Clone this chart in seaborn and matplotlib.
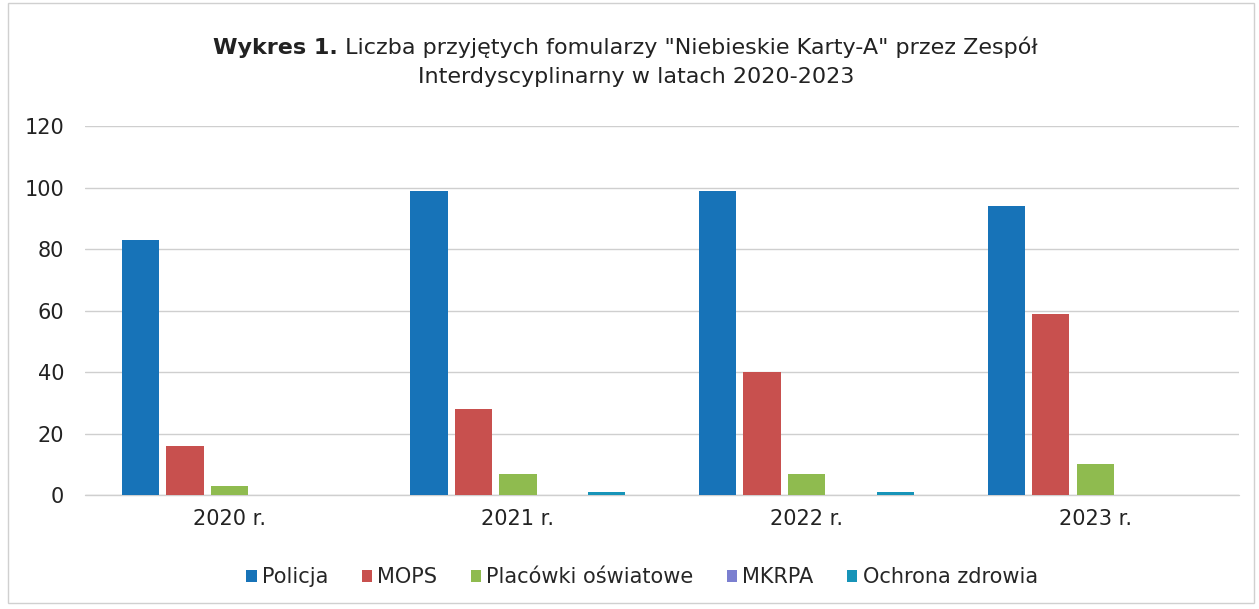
import pandas as pd
import seaborn as sns
import matplotlib.pyplot as plt
from matplotlib.patches import Rectangle

# Data
years = ['2020 r.', '2021 r.', '2022 r.', '2023 r.']
series = ['Policja', 'MOPS', 'Placówki oświatowe', 'MKRPA', 'Ochrona zdrowia']
policja = [83, 99, 99, 94]
mops = [16, 28, 40, 59]
placowki = [3, 7, 7, 10]
mkrpa = [0, 0, 0, 0]
ochrona = [0, 1, 1, 0]
colors = ['#1773b8', '#c8504e', '#8fbb4f', '#7b7fd0', '#1794b8']

# Long format table for seaborn
values = [policja, mops, placowki, mkrpa, ochrona]
rows = []
for name, vals in zip(series, values):
    for year, v in zip(years, vals):
        rows.append({'Rok': year, 'Źródło': name, 'Liczba': v})
df = pd.DataFrame(rows)

sns.set_style('white')
plt.rcParams['font.family'] = ['DejaVu Sans']

fig = plt.figure(figsize=(12.59, 6.09), dpi=100)
ax = fig.add_axes([0.0675, 0.187, 0.917, 0.606])

sns.barplot(data=df, x='Rok', y='Liczba', hue='Źródło', hue_order=series,
            palette=colors, width=0.77, gap=0.16, ax=ax, legend=True,
            saturation=1, linewidth=0)

ax.set_ylim(0, 120)
ax.set_yticks(range(0, 121, 20))
ax.yaxis.grid(True, color='#cfcfcf', linewidth=1)
ax.axhline(0, color='#cfcfcf', linewidth=1, zorder=0, clip_on=False)
ax.set_axisbelow(True)
for s in ax.spines.values():
    s.set_visible(False)
ax.set_xlabel('')
ax.set_ylabel('')
ax.tick_params(axis='both', length=0, labelsize=15, colors='#222222')
ax.tick_params(axis='y', pad=15)
ax.tick_params(axis='x', pad=10)

# legend below the axes
handles, labels = ax.get_legend_handles_labels()
ax.legend_.remove()
fig.legend(handles, labels, loc='center', bbox_to_anchor=(0.51, 0.052),
           ncol=5, frameon=False, fontsize=15, handlelength=0.5,
           handleheight=0.5, handletextpad=0.25, columnspacing=1.6)

# two-part title: bold "Wykres 1." followed by normal text
fig.canvas.draw()
r = fig.canvas.get_renderer()
part1 = 'Wykres 1.'
part2 = ' Liczba przyjętych fomularzy "Niebieskie Karty-A" przez Zespół'
t1 = fig.text(0, 0.922, part1, fontsize=16, fontweight='bold', va='center', color='#222222')
t2 = fig.text(0, 0.922, part2, fontsize=16, va='center', color='#222222')
w1 = t1.get_window_extent(r).width
w2 = t2.get_window_extent(r).width
W = fig.bbox.width
x0 = (625 - (w1 + w2) / 2)
t1.set_x(x0 / W)
t2.set_x((x0 + w1) / W)
fig.text(636 / W, 0.873, 'Interdyscyplinarny w latach 2020-2023', fontsize=16,
         ha='center', va='center', color='#222222')

# light frame around the figure
fig.patches.append(Rectangle((0.006, 0.01), 0.99, 0.985, transform=fig.transFigure,
                             fill=False, edgecolor='#d0d0d0', linewidth=1))

fig.savefig('out.png', dpi=100)
